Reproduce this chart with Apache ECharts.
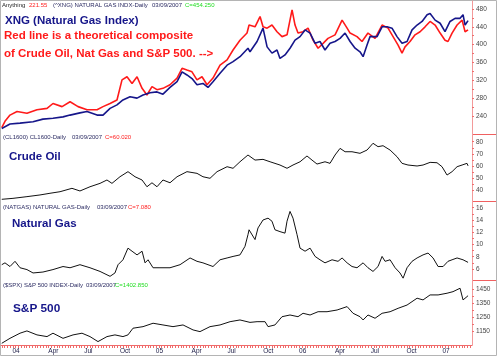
<!DOCTYPE html>
<html><head><meta charset="utf-8">
<script src="https://cdn.jsdelivr.net/npm/echarts@6/dist/echarts.min.js"></script>
<style>html,body{margin:0;padding:0;background:#fff}#c{width:500px;height:358px}</style>
</head><body><div id="c"></div>
<script>
// x values are months since Jan 2004
const xngIndex = [[-0.90,212],[-0.21,222],[0.63,224],[1.72,227],[2.55,233],[3.39,235],[4.23,238],[4.82,242],[5.65,247],[6.24,250],[7.08,242],[7.58,242],[8.17,257],[8.75,265],[9.25,276],[9.84,283],[10.43,280],[10.93,287],[11.52,292],[12.10,294],[12.60,289],[13.19,304],[13.78,317],[14.20,339],[14.61,332],[15.03,324],[15.45,310],[15.95,313],[16.37,304],[16.79,317],[17.38,336],[17.97,354],[18.47,362],[19.05,373],[19.72,392],[19.89,384],[20.48,407],[20.98,437],[21.32,395],[21.73,381],[22.15,388],[22.40,369],[22.82,377],[23.24,392],[23.66,410],[24.08,418],[24.50,433],[24.92,426],[25.34,403],[25.75,407],[26.17,388],[26.59,403],[27.01,407],[27.43,414],[27.85,426],[28.27,407],[28.69,392],[29.10,384],[29.36,373],[29.69,399],[29.94,418],[30.53,418],[30.95,440],[31.37,440],[31.78,437],[32.20,418],[32.62,403],[33.04,407],[33.46,433],[33.88,444],[34.30,452],[34.72,467],[34.97,470],[35.39,455],[35.81,448],[36.22,429],[36.64,452],[37.06,459],[37.48,459],[37.73,467],[37.90,444],[38.15,454]];
const composite = [[-0.90,214],[-0.63,228],[-0.21,242],[0.38,250],[1.21,246],[2.05,254],[2.89,257],[3.39,268],[4.15,261],[4.82,272],[5.49,261],[6.24,254],[7.08,254],[7.58,261],[8.17,268],[8.75,276],[9.17,321],[9.59,328],[10.01,313],[10.43,328],[10.85,302],[11.26,287],[11.68,306],[12.10,299],[12.60,302],[13.19,310],[13.78,325],[14.20,347],[14.61,343],[15.03,339],[15.45,321],[15.87,328],[16.29,310],[16.79,325],[17.38,354],[17.97,366],[18.47,388],[19.05,410],[19.64,426],[19.81,444],[19.89,448],[20.31,440],[20.73,463],[20.98,440],[21.32,437],[21.73,444],[22.15,429],[22.57,418],[22.99,422],[23.41,478],[23.66,444],[23.91,426],[24.33,429],[24.75,437],[25.17,410],[25.59,392],[26.01,403],[26.42,414],[27.01,422],[27.60,455],[28.02,437],[28.27,426],[28.85,418],[29.27,407],[29.77,426],[30.36,414],[30.95,444],[31.45,437],[31.87,418],[32.29,399],[32.62,381],[32.87,395],[33.29,407],[33.71,422],[34.13,429],[34.55,440],[34.97,452],[35.39,444],[35.81,426],[36.22,410],[36.47,407],[36.81,426],[37.23,444],[37.65,455],[37.90,429],[38.06,433],[38.15,433]];
const crudeOil = [[-0.90,32.3],[0.04,33.1],[1.21,34.5],[2.30,35.9],[3.14,37.3],[3.98,38.6],[4.98,41.4],[5.65,39.2],[6.49,42.7],[7.33,45.5],[7.91,48.3],[8.33,45.5],[9.00,51.0],[9.67,55.2],[10.26,51.0],[10.85,48.3],[11.26,42.7],[11.68,46.0],[12.10,42.7],[12.60,48.3],[13.19,46.0],[13.78,51.0],[14.61,55.2],[15.45,53.8],[15.95,51.0],[16.54,49.7],[17.13,55.2],[17.97,59.3],[18.47,58.0],[19.05,63.4],[19.72,69.0],[20.31,64.8],[20.98,65.4],[21.57,63.4],[22.40,60.7],[22.99,58.0],[23.49,60.7],[24.08,63.4],[24.66,68.2],[25.08,64.8],[25.50,61.5],[26.17,63.4],[26.59,62.1],[27.01,69.0],[27.43,74.5],[27.85,71.7],[28.43,71.7],[29.10,70.4],[29.69,73.1],[30.19,78.7],[30.61,75.9],[31.03,76.7],[31.62,73.1],[32.20,67.6],[32.62,62.1],[33.12,60.7],[33.88,59.9],[34.38,60.7],[34.97,62.9],[35.55,62.6],[35.97,59.3],[36.39,52.4],[36.81,55.2],[37.23,59.3],[37.65,60.7],[38.06,62.1],[38.15,60.0]];
const naturalGas = [[-0.90,6.7],[-0.63,7.0],[-0.21,6.4],[0.21,7.25],[0.63,6.2],[1.21,5.9],[1.72,5.35],[2.55,5.5],[3.39,5.9],[4.23,6.4],[4.82,6.2],[5.65,6.7],[6.49,6.2],[7.33,5.6],[8.17,4.8],[8.58,5.35],[8.84,6.7],[9.25,7.5],[9.67,9.4],[10.01,8.9],[10.43,8.3],[10.85,8.9],[11.10,7.0],[11.35,7.5],[11.77,6.2],[12.35,6.2],[13.19,6.2],[14.03,6.7],[14.87,7.8],[15.45,7.25],[15.95,7.0],[16.79,6.4],[17.38,7.5],[17.97,7.8],[18.47,8.05],[19.05,8.3],[19.47,9.7],[19.72,11.6],[19.81,12.4],[19.89,12.1],[20.31,10.8],[20.56,12.7],[20.98,14.0],[21.40,14.3],[21.73,13.8],[21.98,12.4],[22.40,12.1],[22.82,11.85],[22.99,13.8],[23.24,15.4],[23.49,14.3],[23.83,11.6],[24.08,9.4],[24.50,8.9],[24.92,9.4],[25.34,8.05],[25.75,7.5],[26.17,7.0],[26.76,7.5],[27.26,7.25],[27.60,7.8],[28.02,7.0],[28.43,6.4],[28.85,6.2],[29.36,7.0],[29.77,6.2],[30.19,5.6],[30.61,6.4],[30.95,8.05],[31.20,7.25],[31.62,7.5],[32.04,6.2],[32.45,5.35],[32.71,4.5],[33.04,6.2],[33.46,7.25],[33.88,7.8],[34.38,8.3],[34.80,8.6],[35.22,7.8],[35.64,6.4],[36.06,6.4],[36.47,7.25],[36.81,7.5],[37.23,7.8],[37.73,7.5],[38.15,7.08]];
const sp500 = [[-0.90,1068],[-0.21,1103],[0.63,1139],[1.21,1155],[2.05,1127],[2.89,1115],[3.39,1139],[4.23,1103],[5.07,1127],[5.82,1139],[6.49,1115],[7.16,1080],[7.91,1115],[8.58,1127],[9.25,1115],[9.67,1127],[10.09,1174],[10.93,1185],[11.77,1209],[12.60,1197],[13.44,1185],[14.28,1197],[15.12,1162],[15.70,1150],[16.54,1185],[17.38,1197],[18.22,1220],[19.05,1232],[19.89,1215],[20.48,1220],[21.15,1220],[21.40,1185],[21.98,1197],[22.57,1255],[23.24,1267],[23.91,1255],[24.33,1279],[24.92,1267],[25.59,1290],[26.34,1290],[27.18,1302],[28.02,1326],[28.52,1279],[29.10,1255],[29.36,1232],[29.77,1267],[30.36,1244],[30.95,1279],[31.62,1290],[32.29,1314],[33.04,1337],[33.88,1385],[34.38,1373],[34.97,1408],[35.64,1408],[36.39,1420],[36.89,1431],[37.48,1455],[37.73,1373],[38.06,1396],[38.15,1403]];

const monthTickValues = [0,3,6,9,12,15,18,21,24,27,30,33,36];
const monthTickLabels = ['04','Apr','Jul','Oct','05','Apr','Jul','Oct','06','Apr','Jul','Oct','07'];
const xngTicks = [240,280,320,360,400,440,480];
const crudeTicks = [40,50,60,70,80];
const gasTicks = [6,8,10,12,14,16];
const spTicks = [1150,1250,1350,1450];

const X_MIN = -0.963, X_MAX = 38.48;
const weekTicks = [];
for (let v = -0.9; v <= X_MAX; v += 12/52) weekTicks.push(+v.toFixed(3));

const FONT = 'Arial, "Liberation Sans", sans-serif';
const AXRED = '#f39a9a';
const grids = [
  {left:1, right:28, top:1, height:133},
  {left:1, right:28, top:134, height:67},
  {left:1, right:28, top:201, height:79},
  {left:1, right:28, top:280, height:65}
];
function xAx(i){
  const bottom = i === 3;
  return {type:'value', gridIndex:i, min:X_MIN, max:X_MAX, show:bottom,
    axisLine:{show:bottom, onZero:false, lineStyle:{color:'#f06a6a', width:1}},
    axisTick:{show:bottom, customValues:weekTicks, length:3, lineStyle:{color:'#f06a6a'}},
    splitLine:{show:false},
    axisLabel:{show:bottom, customValues:monthTickValues, align:'left', margin:3, fontSize:6.5, fontFamily:FONT, color:'#22224a',
      formatter:(v)=>monthTickLabels[monthTickValues.indexOf(Math.round(v))] || ''}};
}
function yAx(i,min,max,ticks){
  const mids=[]; for(let k=0;k<ticks.length;k++){mids.push(ticks[k]); if(k<ticks.length-1) mids.push((ticks[k]+ticks[k+1])/2);}
  return {type:'value', gridIndex:i, position:'right', min:min, max:max,
    axisLine:{show:true, onZero:false, lineStyle:{color:AXRED, width:1}},
    axisTick:{show:true, customValues:mids, length:2, lineStyle:{color:'#ee7070'}},
    splitLine:{show:false},
    axisLabel:{customValues:ticks, margin:4, fontSize:6.5, fontFamily:FONT, color:'#444', formatter:(v)=>String(v)}};
}
function line(data, xi, yi, color, w){
  return {type:'line', data:data, xAxisIndex:xi, yAxisIndex:yi, showSymbol:false, symbol:'none',
    lineStyle:{color:color, width:w}, animation:false, silent:true};
}
function txt(x,y,s,fill,font){
  return {type:'text', x:x, y:y, silent:true, style:{text:s, fill:fill, font:font, textVerticalAlign:'middle'}};
}
const small = '6px ' + FONT;
const big = 'bold 11.5px ' + FONT;
const NAVY = '#16168a';
const HDR = '#2b2b62';

const chart = echarts.init(document.getElementById('c'), null, {renderer:'canvas'});
chart.setOption({
  backgroundColor:'#ffffff',
  animation:false,
  grid: grids,
  xAxis: [xAx(0),xAx(1),xAx(2),xAx(3)],
  yAxis: [yAx(0,199.6,497.9,xngTicks), yAx(1,30.9,86.4,crudeTicks), yAx(2,4.2,17.1,gasTicks), yAx(3,1056,1513,spTicks)],
  series: [
    line(composite,0,0,'#ff1a1a',1.6),
    line(xngIndex,0,0,'#16168a',1.6),
    line(crudeOil,1,1,'#111',1),
    line(naturalGas,2,2,'#111',1),
    line(sp500,3,3,'#111',1)
  ],
  graphic: [
    {type:'rect', shape:{x:0.5,y:0.5,width:496,height:355}, style:{fill:'none', stroke:'#b4b4b4', lineWidth:1}, silent:true},
    {type:'line', shape:{x1:472,y1:134.5,x2:496,y2:134.5}, style:{stroke:'#f06060', lineWidth:1}, silent:true},
    {type:'line', shape:{x1:472,y1:201.5,x2:496,y2:201.5}, style:{stroke:'#f06060', lineWidth:1}, silent:true},
    {type:'line', shape:{x1:472,y1:280.5,x2:496,y2:280.5}, style:{stroke:'#f06060', lineWidth:1}, silent:true},
    txt(2,5,'Anything','#222',small),
    txt(29,5,'221.55','#ff2020',small),
    txt(53,5,'(^XNG) NATURAL GAS INDX-Daily',HDR,small),
    txt(152,5,'03/09/2007',HDR,small),
    txt(185,5,'C=454.250','#22dd22',small),
    txt(3,137.5,'(CL1600) CL1600-Daily',HDR,small),
    txt(72,137.5,'03/09/2007',HDR,small),
    txt(105,137.5,'C=60.020','#ff2020',small),
    txt(3,207,'(NATGAS) NATURAL GAS-Daily',HDR,small),
    txt(97,207,'03/09/2007',HDR,small),
    txt(128,207,'C=7.080','#ff2020',small),
    txt(3,285.5,'($SPX) S&P 500 INDEX-Daily',HDR,small),
    txt(86,285.5,'03/09/2007',HDR,small),
    txt(115,285.5,'C=1402.850','#22dd22',small),
    txt(5,20.5,'XNG (Natural Gas Index)',NAVY,big),
    txt(4,36,'Red line is a theoretical composite','#ff1a1a',big),
    txt(4,53.5,'of Crude Oil, Nat Gas and S&P 500. -->','#ff1a1a',big),
    txt(9,156.7,'Crude Oil',NAVY,big),
    txt(12,224,'Natural Gas',NAVY,big),
    txt(13,308.3,'S&P 500',NAVY,'bold 11.8px ' + FONT)
  ]
});
</script></body></html>
